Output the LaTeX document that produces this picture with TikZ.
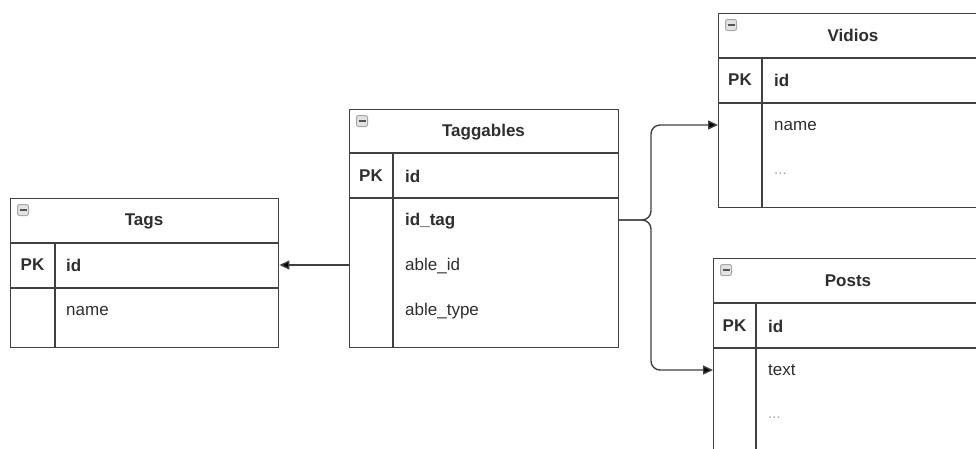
\documentclass[tikz,border=0pt]{standalone}
\usepackage{fontspec}
\setmainfont{Liberation Sans}
\usetikzlibrary{arrows.meta,calc}
\definecolor{ln}{HTML}{404040}
\definecolor{tx}{HTML}{2E2E2E}
\definecolor{dots}{HTML}{AAAAAA}
\definecolor{ic}{HTML}{A8A8A8}
\definecolor{icf}{HTML}{E2E2E2}
\tikzset{
  tbl/.style={draw=ln, line width=1.4pt, fill=white, anchor=north west, inner sep=0pt},
  sep/.style={draw=ln, line width=1.4pt},
  ttl/.style={font=\fontsize{17}{20}\selectfont\bfseries, text=tx, inner sep=0pt},
  pk/.style={font=\fontsize{17}{20}\selectfont\bfseries, text=tx, inner sep=0pt},
  key/.style={font=\fontsize{17}{20}\selectfont\bfseries, text=tx, anchor=west, inner sep=0pt},
  fld/.style={font=\fontsize{17}{20}\selectfont, text=tx, anchor=west, inner sep=0pt},
  dot/.style={font=\fontsize{15}{18}\selectfont, text=dots, anchor=west, inner sep=0pt},
  icon/.style={draw=ic, fill=icf, rounded corners=2pt, line width=1pt, minimum width=11pt, minimum height=11pt, inner sep=0pt, anchor=north west},
  conn/.style={draw=ln, line width=1.4pt, rounded corners=9pt, -{Triangle[length=10pt,width=9pt,fill=black]}},
}
\begin{document}
\begin{tikzpicture}[x=1pt,y=-1pt]
\useasboundingbox (0,0) rectangle (976,448);
\fill[white] (0,0) rectangle (976,448);
\begin{scope}
\clip (0,0) rectangle (976,448);
% ---------- Tags ----------
\node[tbl, minimum width=268pt, minimum height=149pt] (tags) at (10,198) {};
\draw[sep] (10,243) -- (278,243);
\draw[sep] (10,288) -- (278,288);
\draw[sep] (55,243) -- (55,347);
\node[icon] (tagsicon) at (17,204) {};
\draw[ic!50!black, line width=1.2pt] ($(tagsicon.west)+(2.5,0)$) -- ($(tagsicon.east)+(-2.5,0)$);
\node[ttl] (tagst) at (144,221) {Tags};
\node[pk] (tagspk) at (32.5,265) {PK};
\node[key] (tagsid) at (66,265) {id};
\node[fld] (tagsname) at (66,311) {name};
% ---------- Taggables ----------
\node[tbl, minimum width=269pt, minimum height=238pt] (tgb) at (349,109) {};
\draw[sep] (349,153) -- (618,153);
\draw[sep] (349,198) -- (618,198);
\draw[sep] (393,153) -- (393,347);
\node[icon] (tgbicon) at (356,115) {};
\draw[ic!50!black, line width=1.2pt] ($(tgbicon.west)+(2.5,0)$) -- ($(tgbicon.east)+(-2.5,0)$);
\node[ttl] (tgbt) at (483.5,132) {Taggables};
\node[pk] (tgbpk) at (371,176) {PK};
\node[key] (tgbid) at (405,176) {id};
\node[key] (tgbidtag) at (405,221) {id\_tag};
\node[fld] (tgbableid) at (405,266) {able\_id};
\node[fld] (tgbabletype) at (405,311) {able\_type};
% ---------- Vidios ----------
\node[tbl, minimum width=270pt, minimum height=194pt] (vid) at (718,13) {};
\draw[sep] (718,58) -- (988,58);
\draw[sep] (718,103) -- (988,103);
\draw[sep] (762,58) -- (762,207);
\node[icon] (vidicon) at (725,19) {};
\draw[ic!50!black, line width=1.2pt] ($(vidicon.west)+(2.5,0)$) -- ($(vidicon.east)+(-2.5,0)$);
\node[ttl] (vidt) at (853,35) {Vidios};
\node[pk] (vidpk) at (740,80) {PK};
\node[key] (vidid) at (774,80) {id};
\node[fld] (vidname) at (774,126) {name};
\node[dot] (viddots) at (774,174) {...};
% ---------- Posts ----------
\node[tbl, minimum width=275pt, minimum height=220pt] (pst) at (713,258) {};
\draw[sep] (713,303) -- (988,303);
\draw[sep] (713,348) -- (988,348);
\draw[sep] (756,303) -- (756,478);
\node[icon] (psticon) at (720,264) {};
\draw[ic!50!black, line width=1.2pt] ($(psticon.west)+(2.5,0)$) -- ($(psticon.east)+(-2.5,0)$);
\node[ttl] (pstt) at (848,281) {Posts};
\node[pk] (pstpk) at (734.5,326) {PK};
\node[key] (pstid) at (768,326) {id};
\node[fld] (psttext) at (768,370) {text};
\node[dot] (pstdots) at (768,418) {...};
% ---------- connectors ----------
\coordinate (tgbL) at (349,265);
\coordinate (tgbR) at (618,220);
\coordinate (vidL) at (718,125);
\coordinate (pstL) at (713,370);
\draw[conn] (tgbL) -- (tags.east |- tgbL);
\draw[conn] (tgbR) -- (651,220) -- (651,125) -- (vidL);
\draw[conn] (tgbR) -- (651,220) -- (651,370) -- (pstL);
\end{scope}
\end{tikzpicture}
\end{document}
